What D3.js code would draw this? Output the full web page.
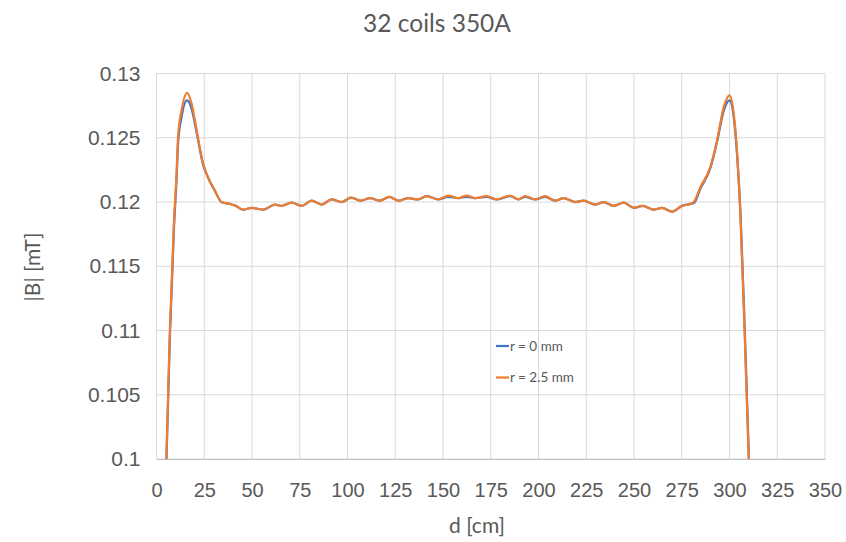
<!DOCTYPE html>
<html>
<head>
<meta charset="utf-8">
<script src="https://cdn.jsdelivr.net/npm/d3@7"></script>
<style>
  body { margin: 0; background: #fff; }
  svg { font-family: Lato, "Open Sans", sans-serif; }
  .grid line { stroke: #d9d9d9; stroke-width: 1; }
  .tick text { fill: #595959; }
</style>
</head>
<body>
<svg width="846" height="542"></svg>
<script>
// Données
const dist = [5, 7, 9.2, 10.5, 11.3, 13.1, 16, 18.3, 21, 24.4, 27, 30.5, 34, 38.4, 41.5, 45.4, 49.8, 55.9,
  62, 65.5, 70.7, 76, 81.2, 86.5, 91.7, 97, 102, 106.6, 111.8, 117, 121.9, 126.6, 131.8, 137, 141.5,
  147.5, 152.8, 158, 162.4, 166.8, 172.9, 178, 185.1, 189.5, 193, 198.3, 203.5, 208.7, 213.1, 219.2,
  223.6, 229.8, 234.1, 239.4, 244.6, 249.8, 254.7, 260.2, 264.6, 269.9, 275.1, 279.5, 281.3, 284.8,
  290, 293.5, 297, 300, 302.2, 304, 305.8, 308, 310.1, 310.6];

const bR25 = [0.0991, 0.110, 0.1186, 0.1222, 0.1251, 0.1271, 0.1285, 0.1277, 0.1256, 0.1230, 0.1219, 0.1209, 0.1200, 0.11985, 0.1197, 0.1194, 0.11955, 0.1194,
  0.1198, 0.1197, 0.11995, 0.1197, 0.1201, 0.1198, 0.1202, 0.1200, 0.12035, 0.1201, 0.1203, 0.1201, 0.1204, 0.1201, 0.1203, 0.1202, 0.12045,
  0.1202, 0.1205, 0.1203, 0.1205, 0.1203, 0.12045, 0.1202, 0.1205, 0.1202, 0.12045, 0.1202, 0.12045, 0.1201, 0.1203, 0.1200,
  0.1201, 0.1198, 0.1200, 0.1197, 0.11995, 0.11955, 0.1197, 0.1194, 0.11955, 0.11925, 0.1197, 0.11985, 0.1200, 0.12117,
  0.12273, 0.1248, 0.1274, 0.1283, 0.1269, 0.1238, 0.1186, 0.1095, 0.1000, 0.0975];

const bR0 = [0.0988, 0.1095, 0.1182, 0.1218, 0.1246, 0.1266, 0.1279, 0.1273, 0.1254, 0.1229, 0.1219, 0.1209, 0.1200, 0.11985, 0.1197, 0.1194, 0.11955, 0.1194,
  0.1198, 0.1197, 0.11995, 0.1197, 0.1201, 0.1198, 0.1202, 0.1200, 0.12035, 0.1201, 0.1203, 0.1201, 0.1204, 0.1201, 0.1203, 0.1202, 0.12045,
  0.1202, 0.1204, 0.1203, 0.1204, 0.1203, 0.1204, 0.1202, 0.12045, 0.1202, 0.1204, 0.1202, 0.1204, 0.1201, 0.1203, 0.1200,
  0.1201, 0.1198, 0.1200, 0.1197, 0.11995, 0.11955, 0.1197, 0.1194, 0.11955, 0.11925, 0.1197, 0.11985, 0.1199, 0.12105,
  0.12265, 0.1247, 0.1271, 0.1279, 0.1266, 0.1236, 0.1190, 0.1100, 0.1003, 0.0978];

const xTicks = d3.range(0, 351, 25);
const yTicks = [0.1, 0.105, 0.11, 0.115, 0.12, 0.125, 0.13];
const seriesNames = ["r = 0 mm", "r = 2.5 mm"];
const seriesColors = ["#4472C4", "#ED7D31"];

const svg = d3.select("svg"),
      margin = { top: 73.5, right: 21, bottom: 83, left: 156.5 },
      width = 846 - margin.left - margin.right,
      height = 542 - margin.top - margin.bottom;

const chart = svg.append("g")
    .attr("transform", `translate(${margin.left},${margin.top})`);

const x = d3.scaleLinear().domain([0, 350]).range([0, width]);
const y = d3.scaleLinear().domain([0.1, 0.13]).range([height, 0]);

// Grille
chart.append("g")
    .attr("class", "grid")
    .selectAll("line.h")
    .data(yTicks)
    .join("line")
    .attr("x1", 0).attr("x2", width)
    .attr("y1", d => y(d)).attr("y2", d => y(d));

chart.append("g")
    .attr("class", "grid")
    .selectAll("line.v")
    .data(xTicks)
    .join("line")
    .attr("y1", 0).attr("y2", height)
    .attr("x1", d => x(d)).attr("x2", d => x(d));

// Axes
const xAxis = chart.append("g")
    .attr("transform", `translate(0,${height})`)
    .call(d3.axisBottom(x).tickValues(xTicks).tickSize(0).tickPadding(24));
xAxis.select(".domain").attr("stroke", "#bfbfbf");
xAxis.selectAll("text").attr("font-size", 20);

const yAxis = chart.append("g")
    .call(d3.axisLeft(y).tickValues(yTicks).tickSize(0).tickPadding(16)
        .tickFormat(d => String(+d.toFixed(3))));
yAxis.select(".domain").remove();
yAxis.selectAll("text").attr("font-size", 21);

// Courbes
chart.append("clipPath").attr("id", "clip")
    .append("rect").attr("width", width).attr("height", height);

const line = d3.line()
    .x(d => x(d[0]))
    .y(d => y(d[1]))
    .curve(d3.curveMonotoneX);

[bR0, bR25].forEach((vals, i) => {
    chart.append("path")
        .datum(dist.map((d, j) => [d, vals[j]]))
        .attr("clip-path", "url(#clip)")
        .attr("fill", "none")
        .attr("stroke", seriesColors[i])
        .attr("stroke-width", 2.25)
        .attr("stroke-linejoin", "round")
        .attr("d", line);
});

// Légende
const legend = svg.append("g").attr("transform", "translate(496,346)");
seriesNames.forEach((name, i) => {
    const g = legend.append("g").attr("transform", `translate(0,${i * 31.5})`);
    g.append("line").attr("x1", 0).attr("x2", 13)
        .attr("stroke", seriesColors[i]).attr("stroke-width", 2.25);
    g.append("text").attr("x", 14).attr("dy", "0.35em")
        .attr("font-size", 13.5).attr("fill", "#595959").text(name);
});

// Titres
svg.append("text")
    .attr("x", 437).attr("y", 32)
    .attr("text-anchor", "middle")
    .attr("font-size", 24.5).attr("fill", "#595959")
    .text("32 coils 350A");

svg.append("text")
    .attr("x", 477).attr("y", 533)
    .attr("text-anchor", "middle")
    .attr("font-size", 21).attr("fill", "#595959")
    .text("d [cm]");

svg.append("text")
    .attr("transform", "translate(40,267) rotate(-90)")
    .attr("text-anchor", "middle")
    .attr("font-size", 21).attr("fill", "#595959")
    .text("|B| [mT]");
</script>
</body>
</html>
